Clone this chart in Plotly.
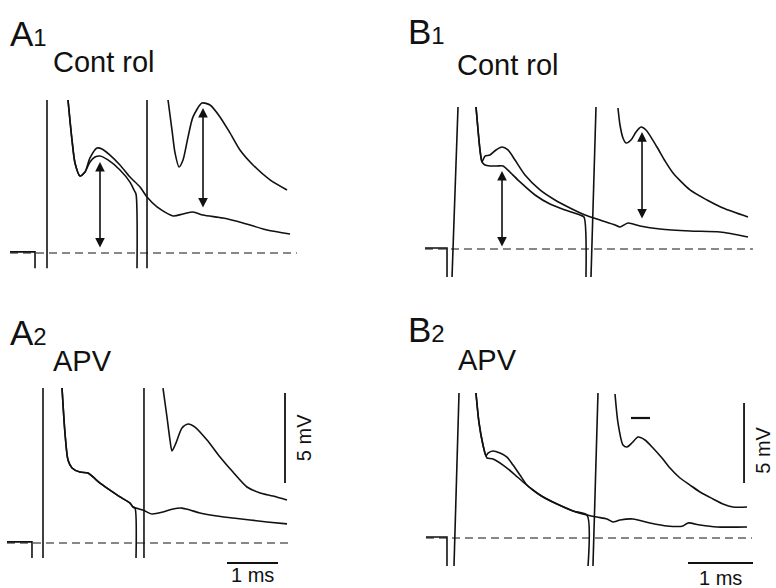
import plotly.graph_objects as go

W, H = 776, 588

# ===================== DATA (time in ms, voltage in mV) =====================
# ---- Panel A1 (Control) ----
a1_pre_t = [-0.725, -0.235, -0.235]
a1_pre_v = [0.06, 0.06, -0.85]
a1_stim_t = [0.0, 0.0]
a1_stim_v = [-0.85, 8.5]
a1_single_t = [0.412, 0.49, 0.549, 0.647, 0.745, 0.843, 0.98, 1.078, 1.235, 1.431, 1.627, 1.824,
               1.961, 2.157, 2.471, 2.667, 2.863, 3.059, 3.451, 3.843, 4.314, 4.765]
a1_single_v = [8.5, 6.28, 5.0, 4.28, 4.5, 5.28, 5.83, 5.78, 5.44, 4.89, 4.22, 3.67,
               3.11, 2.56, 2.06, 2.17, 2.28, 2.11, 1.94, 1.67, 1.28, 1.06]
a1_paired_t = [0.412, 0.49, 0.549, 0.647, 0.745, 0.843, 0.941, 1.039, 1.196, 1.431, 1.627, 1.706, 1.745, 1.765,
               None, 1.961, 1.961, None,
               2.373, 2.451, 2.51, 2.588, 2.667, 2.765, 2.863, 3.039, 3.196, 3.392, 3.588, 3.784,
               4.039, 4.373, 4.706]
a1_paired_v = [8.5, 6.28, 5.0, 4.28, 4.5, 5.06, 5.33, 5.39, 5.17, 4.61, 3.94, 3.5, 3.28, -0.85,
               None, -0.85, 8.5, None,
               8.5, 6.83, 5.56, 4.78, 5.17, 6.44, 7.56, 8.33, 8.22, 7.56, 6.67, 5.72,
               4.89, 4.06, 3.5]
a1_base_t = [-0.725, 4.9]
a1_arrow_t = [1.039, 3.059]
a1_arrow_lo = [0.22, 2.44]
a1_arrow_hi = [5.06, 8.06]

# ---- Panel A2 (APV) ----
a2_pre_t = [-0.706, -0.216, -0.216]
a2_pre_v = [0.06, 0.06, -0.83]
a2_stim_t = [0.0, 0.0]
a2_stim_v = [-0.83, 8.61]
a2_shared_t = [0.373, 0.431, 0.49, 0.569, 0.725, 0.882, 0.98, 1.118, 1.314, 1.51, 1.706, 1.765]
a2_shared_v = [8.61, 6.11, 4.61, 4.17, 3.94, 3.89, 3.67, 3.33, 2.94, 2.56, 2.22, 2.0]
a2_single_t = a2_shared_t + [1.961, 2.137, 2.353, 2.549, 2.725, 2.882, 3.078, 3.412, 3.725,
                             4.059, 4.392, 4.784]
a2_single_v = a2_shared_v + [1.83, 1.61, 1.72, 1.89, 1.94, 1.83, 1.67, 1.5, 1.39,
                             1.28, 1.17, 1.06]
a2_paired_t = a2_shared_t + [1.804, 1.824, None, 1.98, 1.98, None,
                             2.353, 2.431, 2.49, 2.529, 2.608, 2.725, 2.843, 2.98, 3.216, 3.471,
                             3.725, 4.0, 4.255, 4.51, 4.784]
a2_paired_v = a2_shared_v + [1.94, -0.83, None, -0.83, 8.61, None,
                             8.61, 7.0, 5.72, 5.11, 5.56, 6.39, 6.61, 6.44, 5.72, 4.78,
                             3.94, 3.11, 2.78, 2.61, 2.39]
a2_base_t = [-0.706, 4.88]
a2_vbar_t = [4.745, 4.745]
a2_vbar_v = [3.33, 8.33]
a2_hbar_t = [3.608, 4.608]
a2_hbar_v = [-1.11, -1.11]

# ---- Panel B1 (Control) ----
b1_pre_t = [-0.431, -0.092, -0.092]
b1_pre_v = [0.06, 0.06, -1.75]
b1_stim_t = [-0.015, 0.077]
b1_stim_v = [-1.75, 8.875]
b1_single_t = [0.354, 0.385, 0.415, 0.446, 0.492, 0.569, 0.662, 0.754, 0.846, 0.954, 1.108, 1.338,
               1.569, 1.8, 2.031, 2.262, 2.492, 2.569, 2.692, 2.877, 3.185, 3.646, 4.108, 4.538]
b1_single_v = [8.875, 7.44, 6.19, 5.44, 5.81, 5.875, 6.19, 6.375, 6.19, 5.56, 4.625, 3.69,
               3.06, 2.56, 2.125, 1.81, 1.5, 1.375, 1.625, 1.44, 1.25, 1.125, 1.06, 0.75]
b1_paired_t = [0.354, 0.385, 0.415, 0.446, 0.492, 0.569, 0.677, 0.769, 0.877, 1.031, 1.262, 1.492,
               1.723, 1.954, 2.015, 2.046, None, 2.123, 2.2, None,
               2.538, 2.569, 2.615, 2.662, 2.738, 2.815, 2.892, 2.969, 3.138, 3.262, 3.385,
               3.646, 3.908, 4.154, 4.538]
b1_paired_v = [8.875, 7.44, 6.19, 5.44, 5.25, 5.19, 5.19, 5.19, 4.81, 4.19, 3.375, 2.81,
               2.44, 2.125, 2.0, -1.75, None, -1.75, 8.875, None,
               8.81, 7.75, 6.94, 6.625, 6.81, 7.31, 7.625, 7.44, 6.375, 5.5, 4.75,
               3.69, 3.06, 2.56, 2.0]
b1_base_t = [-0.431, 4.615]
b1_arrow_t = [0.754, 2.908]
b1_arrow_lo = [0.06, 1.81]
b1_arrow_hi = [4.875, 7.31]

# ---- Panel B2 (APV) ----
b2_pre_t = [-0.431, -0.108, -0.108]
b2_pre_v = [0.06, 0.06, -1.75]
b2_stim_t = [0.0, 0.077]
b2_stim_v = [-1.75, 9.06]
b2_single_t = [0.338, 0.385, 0.446, 0.492, 0.523, 0.6, 0.708, 0.815, 0.908, 1.015, 1.123, 1.277,
               1.431, 1.585, 1.831, 2.046, 2.2, 2.354, 2.446, 2.554, 2.754, 3.015, 3.277, 3.523,
               3.6, 3.785, 4.046, 4.508]
b2_single_v = [9.06, 7.19, 5.81, 5.125, 5.31, 5.44, 5.31, 5.06, 4.56, 3.94, 3.31, 2.81,
               2.44, 2.125, 1.69, 1.44, 1.31, 1.19, 1.0, 1.125, 1.19, 0.94, 0.75, 0.75,
               0.94, 0.81, 0.69, 0.69]
b2_paired_t = [0.338, 0.385, 0.446, 0.492, 0.508, 0.6, 0.754, 0.908, 1.062, 1.215, 1.369, 1.585,
               1.831, 2.046, 2.062, None, 2.138, 2.215, None,
               2.477, 2.523, 2.6, 2.662, 2.738, 2.831, 2.938, 3.062, 3.2, 3.323, 3.477, 3.631,
               3.785, 3.985, 4.138, 4.292, 4.508]
b2_paired_v = [9.06, 7.19, 5.81, 5.125, 5.0, 4.94, 4.56, 4.06, 3.5, 3.0, 2.56, 2.125,
               1.69, 1.44, -1.75, None, -1.75, 9.06, None,
               9.0, 7.19, 5.81, 5.69, 5.94, 6.31, 6.125, 5.625, 5.0, 4.375, 3.75, 3.31,
               2.875, 2.44, 2.125, 1.94, 1.94]
b2_base_t = [-0.431, 4.585]
b2_mark_t = [2.723, 3.015]
b2_mark_v = [7.5, 7.5]
b2_vbar_t = [4.462, 4.462]
b2_vbar_v = [3.44, 8.44]
b2_hbar_t = [3.6, 4.6]
b2_hbar_v = [-1.5625, -1.5625]

# ===================== LAYOUT GEOMETRY =====================
# pixel origin (t=0, v=0) and pixel scale (px per ms, px per mV) for each panel
PANELS = {
    "A1": dict(ax=1, x0=47, y0=253, sx=51, sy=18),
    "A2": dict(ax=2, x0=43, y0=543, sx=51, sy=18),
    "B1": dict(ax=3, x0=453, y0=249, sx=65, sy=16),
    "B2": dict(ax=4, x0=454, y0=538, sx=65, sy=16),
}

FONT = "Liberation Sans, Arial, Helvetica, sans-serif"
INK = "#111111"
LW = 1.6

fig = go.Figure()


def refs(p):
    n = PANELS[p]["ax"]
    return ("x" if n == 1 else f"x{n}"), ("y" if n == 1 else f"y{n}")


def line(p, t, v, width=LW, dash=None, color=INK, smooth=False):
    xr, yr = refs(p)
    ln = dict(color=color, width=width, dash=dash)
    if smooth:
        ln.update(shape="spline", smoothing=0.7)
    fig.add_trace(go.Scatter(x=t, y=v, xaxis=xr, yaxis=yr, mode="lines", line=ln,
                             connectgaps=False, hoverinfo="skip", showlegend=False))


panel_data = {
    "A1": dict(pre=(a1_pre_t, a1_pre_v), stim=(a1_stim_t, a1_stim_v),
               sweeps=[(a1_single_t, a1_single_v), (a1_paired_t, a1_paired_v)], base=a1_base_t),
    "A2": dict(pre=(a2_pre_t, a2_pre_v), stim=(a2_stim_t, a2_stim_v),
               sweeps=[(a2_single_t, a2_single_v), (a2_paired_t, a2_paired_v)], base=a2_base_t),
    "B1": dict(pre=(b1_pre_t, b1_pre_v), stim=(b1_stim_t, b1_stim_v),
               sweeps=[(b1_single_t, b1_single_v), (b1_paired_t, b1_paired_v)], base=b1_base_t),
    "B2": dict(pre=(b2_pre_t, b2_pre_v), stim=(b2_stim_t, b2_stim_v),
               sweeps=[(b2_single_t, b2_single_v), (b2_paired_t, b2_paired_v)], base=b2_base_t),
}

for p, d in panel_data.items():
    line(p, d["base"], [0, 0], width=1.0, dash="8px,5px", color="#111111")
    line(p, *d["pre"])
    line(p, *d["stim"])
    for t, v in d["sweeps"]:
        line(p, t, v, smooth=True)

# scale bars and marker
line("A2", a2_vbar_t, a2_vbar_v, width=1.8)
line("A2", a2_hbar_t, a2_hbar_v, width=1.8)
line("B2", b2_vbar_t, b2_vbar_v, width=1.8)
line("B2", b2_hbar_t, b2_hbar_v, width=1.8)
line("B2", b2_mark_t, b2_mark_v, width=2.2)

# axes
layout_axes = {}
for p, g in PANELS.items():
    n = g["ax"]
    xname = "xaxis" if n == 1 else f"xaxis{n}"
    yname = "yaxis" if n == 1 else f"yaxis{n}"
    xr, yr = refs(p)
    xa = dict(range=[-g["x0"] / g["sx"], (W - g["x0"]) / g["sx"]], domain=[0, 1],
              visible=False, fixedrange=True, anchor=yr)
    ya = dict(range=[(g["y0"] - H) / g["sy"], g["y0"] / g["sy"]], domain=[0, 1],
              visible=False, fixedrange=True, anchor=xr)
    if n > 1:
        xa["overlaying"] = "x"
        ya["overlaying"] = "y"
    layout_axes[xname] = xa
    layout_axes[yname] = ya

annotations = []

# double-headed arrows (amplitude measurements)
for p, ts, los, his in [("A1", a1_arrow_t, a1_arrow_lo, a1_arrow_hi),
                        ("B1", b1_arrow_t, b1_arrow_lo, b1_arrow_hi)]:
    xr, yr = refs(p)
    for t, lo, hi in zip(ts, los, his):
        annotations.append(dict(x=t, y=hi, ax=t, ay=lo, xref=xr, yref=yr, axref=xr, ayref=yr,
                                text="", showarrow=True, arrowhead=2, startarrowhead=2,
                                arrowside="end+start", arrowsize=1.2, startarrowsize=1.2,
                                arrowwidth=1.6, arrowcolor=INK))


def label(px, py, letter, num):
    annotations.append(dict(x=px / W, y=1 - py / H, xref="paper", yref="paper",
                            xanchor="left", yanchor="middle", showarrow=False,
                            text=f"{letter}<span style='font-size:24px'>{num}</span>",
                            font=dict(family=FONT, size=35, color=INK)))


label(8, 33, "A", "1")
label(406, 31, "B", "1")
label(8, 332, "A", "2")
label(406, 329, "B", "2")

for px, py, txt in [(51, 62, "Cont rol"), (455, 65, "Cont rol"), (51, 361, "APV"), (456, 360, "APV")]:
    annotations.append(dict(x=px / W, y=1 - py / H, xref="paper", yref="paper",
                            xanchor="left", yanchor="middle", showarrow=False, text=txt,
                            font=dict(family=FONT, size=29, color=INK)))

# scale-bar labels (placed in panel data coordinates)
for p, t, v, txt, ang in [("A2", 5.12, 5.83, "5 mV", -90), ("B2", 4.75, 5.5, "5 mV", -90),
                          ("A2", 4.1, -1.8, "1 ms", 0), ("B2", 4.1, -2.5, "1 ms", 0)]:
    xr, yr = refs(p)
    annotations.append(dict(x=t, y=v, xref=xr, yref=yr, showarrow=False, text=txt, textangle=ang,
                            xanchor="center", yanchor="middle",
                            font=dict(family=FONT, size=20, color=INK)))

fig.update_layout(
    width=W, height=H, autosize=False,
    margin=dict(l=0, r=0, t=0, b=0, pad=0),
    paper_bgcolor="white", plot_bgcolor="white",
    showlegend=False,
    annotations=annotations,
    **layout_axes,
)

fig.write_html("out.html", config={"displayModeBar": False, "staticPlot": True})
